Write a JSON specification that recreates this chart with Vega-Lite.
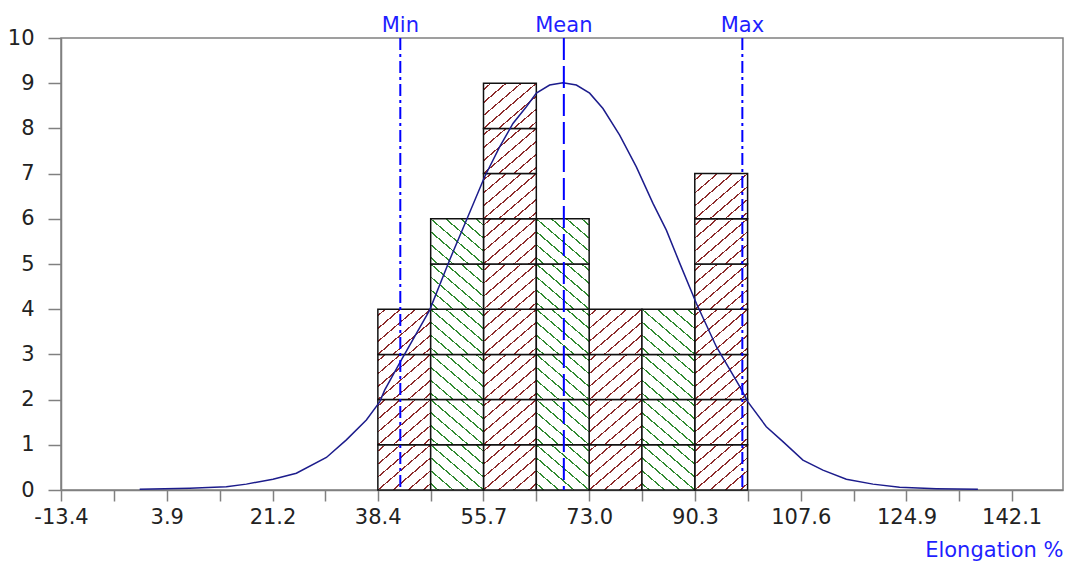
{
  "$schema": "https://vega.github.io/schema/vega-lite/v6.json",
  "width": 1002,
  "height": 452,
  "autosize": {"type": "none"},
  "padding": {"left": 61, "top": 38, "right": 6, "bottom": 74},
  "background": "white",
  "config": {
    "view": {"stroke": "#808080", "strokeWidth": 1.5},
    "font": "DejaVu Sans"
  },
  "datasets": {
    "bars": [
      {"lo": 38.43, "hi": 47.07, "count": 4, "hatch": "red", "levels": [1, 2, 3, 4]},
      {"lo": 47.07, "hi": 55.71, "count": 6, "hatch": "green", "levels": [1, 2, 3, 4, 5, 6]},
      {"lo": 55.71, "hi": 64.35, "count": 9, "hatch": "red", "levels": [1, 2, 3, 4, 5, 6, 7, 8, 9]},
      {"lo": 64.35, "hi": 72.99, "count": 6, "hatch": "green", "levels": [1, 2, 3, 4, 5, 6]},
      {"lo": 72.99, "hi": 81.63, "count": 4, "hatch": "red", "levels": [1, 2, 3, 4]},
      {"lo": 81.63, "hi": 90.27, "count": 4, "hatch": "green", "levels": [1, 2, 3, 4]},
      {"lo": 90.27, "hi": 98.91, "count": 7, "hatch": "red", "levels": [1, 2, 3, 4, 5, 6, 7]}
    ],
    "curve": [
      {"x": -0.53, "y": 0.015},
      {"x": 7.65, "y": 0.04},
      {"x": 13.65, "y": 0.07},
      {"x": 16.92, "y": 0.13},
      {"x": 21.27, "y": 0.24},
      {"x": 25.1, "y": 0.37},
      {"x": 30.01, "y": 0.72},
      {"x": 33.28, "y": 1.11},
      {"x": 36.55, "y": 1.55},
      {"x": 38.73, "y": 1.95},
      {"x": 39.54, "y": 2.21},
      {"x": 42.28, "y": 2.88},
      {"x": 46.9, "y": 3.98},
      {"x": 50.17, "y": 5.09},
      {"x": 53.17, "y": 6.05},
      {"x": 55.9, "y": 6.93},
      {"x": 58.35, "y": 7.59},
      {"x": 60.53, "y": 8.11},
      {"x": 62.72, "y": 8.48},
      {"x": 64.36, "y": 8.78},
      {"x": 66.53, "y": 8.96},
      {"x": 68.71, "y": 9.01},
      {"x": 70.9, "y": 8.96},
      {"x": 73.07, "y": 8.78},
      {"x": 75.25, "y": 8.44},
      {"x": 77.98, "y": 7.85},
      {"x": 80.71, "y": 7.15},
      {"x": 83.43, "y": 6.34},
      {"x": 85.62, "y": 5.75},
      {"x": 87.8, "y": 5.02},
      {"x": 90.52, "y": 4.13},
      {"x": 93.8, "y": 3.17},
      {"x": 97.61, "y": 2.29},
      {"x": 98.96, "y": 1.95},
      {"x": 101.97, "y": 1.4},
      {"x": 104.69, "y": 1.07},
      {"x": 107.96, "y": 0.66},
      {"x": 111.23, "y": 0.44},
      {"x": 115.06, "y": 0.24},
      {"x": 119.41, "y": 0.13},
      {"x": 123.77, "y": 0.06},
      {"x": 129.78, "y": 0.03},
      {"x": 136.58, "y": 0.015}
    ],
    "stats": [
      {"stat": "Min", "value": 42.1, "kind": "dashdot"},
      {"stat": "Mean", "value": 68.85, "kind": "dash"},
      {"stat": "Max", "value": 98.05, "kind": "dashdot"}
    ]
  },
  "layer": [
    {
      "data": {"name": "bars"},
      "transform": [
        {"filter": "datum.hatch === 'red'"},
        {"flatten": ["levels"], "as": ["level"]},
        {"calculate": "datum.level - 1", "as": "level0"}
      ],
      "mark": {
        "type": "rect",
        "stroke": "#111111",
        "strokeWidth": 1.5,
        "fill": {
          "gradient": "linear", "x1": 0, "y1": 0, "x2": 1, "y2": 1,
          "stops": [
            {"offset": 0, "color": "#ffffff"},
            {"offset": 0.062, "color": "#ffffff"}, {"offset": 0.062, "color": "#8c2a2a"}, {"offset": 0.08, "color": "#8c2a2a"}, {"offset": 0.08, "color": "#ffffff"},
            {"offset": 0.205, "color": "#ffffff"}, {"offset": 0.205, "color": "#8c2a2a"}, {"offset": 0.223, "color": "#8c2a2a"}, {"offset": 0.223, "color": "#ffffff"},
            {"offset": 0.348, "color": "#ffffff"}, {"offset": 0.348, "color": "#8c2a2a"}, {"offset": 0.366, "color": "#8c2a2a"}, {"offset": 0.366, "color": "#ffffff"},
            {"offset": 0.491, "color": "#ffffff"}, {"offset": 0.491, "color": "#8c2a2a"}, {"offset": 0.509, "color": "#8c2a2a"}, {"offset": 0.509, "color": "#ffffff"},
            {"offset": 0.634, "color": "#ffffff"}, {"offset": 0.634, "color": "#8c2a2a"}, {"offset": 0.652, "color": "#8c2a2a"}, {"offset": 0.652, "color": "#ffffff"},
            {"offset": 0.777, "color": "#ffffff"}, {"offset": 0.777, "color": "#8c2a2a"}, {"offset": 0.795, "color": "#8c2a2a"}, {"offset": 0.795, "color": "#ffffff"},
            {"offset": 0.92, "color": "#ffffff"}, {"offset": 0.92, "color": "#8c2a2a"}, {"offset": 0.938, "color": "#8c2a2a"}, {"offset": 0.938, "color": "#ffffff"},
            {"offset": 1, "color": "#ffffff"}
          ]
        }
      },
      "encoding": {
        "x": {
          "field": "lo", "type": "quantitative",
          "scale": {"domain": [-13.4, 150.5], "nice": false, "zero": false},
          "axis": {
            "values": [-13.4, -4.75, 3.9, 12.55, 21.2, 29.8, 38.4, 47.07, 55.7, 64.35, 73.0, 81.63, 90.3, 98.91, 107.6, 116.25, 124.9, 133.5, 142.1],
            "labelExpr": "indexof([-13.4, 3.9, 21.2, 38.4, 55.7, 73, 90.3, 107.6, 124.9, 142.1], datum.value) >= 0 ? replace(format(datum.value, '.1f'), '\u2212', '-') : ''",
            "labelFlush": false,
            "labelOverlap": false,
            "grid": false,
            "tickSize": 11,
            "tickWidth": 1.5,
            "tickColor": "#808080",
            "domainColor": "#808080",
            "domainWidth": 1.5,
            "labelPadding": 5,
            "labelFontSize": 21,
            "labelColor": "#222222",
            "labelFont": "DejaVu Sans",
            "title": "Elongation %",
            "titleAnchor": "end",
            "titleAlign": "right",
            "titleY": 66,
            "titleBaseline": "alphabetic",
            "titleColor": "#1f1fff",
            "titleFont": "DejaVu Sans",
            "titleFontSize": 21,
            "titleFontWeight": "normal"
          }
        },
        "x2": {"field": "hi"},
        "y": {
          "field": "level0", "type": "quantitative",
          "scale": {"domain": [0, 10], "nice": false},
          "axis": {
            "values": [0, 1, 2, 3, 4, 5, 6, 7, 8, 9, 10],
            "grid": false,
            "title": null,
            "tickSize": 13,
            "tickWidth": 1.5,
            "tickColor": "#808080",
            "domainColor": "#808080",
            "domainWidth": 1.5,
            "labelPadding": 14,
            "labelFontSize": 21,
            "labelColor": "#222222",
            "labelFont": "DejaVu Sans",
            "labelFlush": false,
            "labelOverlap": false
          }
        },
        "y2": {"field": "level"}
      }
    },
    {
      "data": {"name": "bars"},
      "transform": [
        {"filter": "datum.hatch === 'green'"},
        {"flatten": ["levels"], "as": ["level"]},
        {"calculate": "datum.level - 1", "as": "level0"}
      ],
      "mark": {
        "type": "rect",
        "stroke": "#111111",
        "strokeWidth": 1.5,
        "fill": {
          "gradient": "linear", "x1": 1, "y1": 0, "x2": 0, "y2": 1,
          "stops": [
            {"offset": 0, "color": "#ffffff"},
            {"offset": 0.062, "color": "#ffffff"}, {"offset": 0.062, "color": "#2f8a2f"}, {"offset": 0.08, "color": "#2f8a2f"}, {"offset": 0.08, "color": "#ffffff"},
            {"offset": 0.205, "color": "#ffffff"}, {"offset": 0.205, "color": "#2f8a2f"}, {"offset": 0.223, "color": "#2f8a2f"}, {"offset": 0.223, "color": "#ffffff"},
            {"offset": 0.348, "color": "#ffffff"}, {"offset": 0.348, "color": "#2f8a2f"}, {"offset": 0.366, "color": "#2f8a2f"}, {"offset": 0.366, "color": "#ffffff"},
            {"offset": 0.491, "color": "#ffffff"}, {"offset": 0.491, "color": "#2f8a2f"}, {"offset": 0.509, "color": "#2f8a2f"}, {"offset": 0.509, "color": "#ffffff"},
            {"offset": 0.634, "color": "#ffffff"}, {"offset": 0.634, "color": "#2f8a2f"}, {"offset": 0.652, "color": "#2f8a2f"}, {"offset": 0.652, "color": "#ffffff"},
            {"offset": 0.777, "color": "#ffffff"}, {"offset": 0.777, "color": "#2f8a2f"}, {"offset": 0.795, "color": "#2f8a2f"}, {"offset": 0.795, "color": "#ffffff"},
            {"offset": 0.92, "color": "#ffffff"}, {"offset": 0.92, "color": "#2f8a2f"}, {"offset": 0.938, "color": "#2f8a2f"}, {"offset": 0.938, "color": "#ffffff"},
            {"offset": 1, "color": "#ffffff"}
          ]
        }
      },
      "encoding": {
        "x": {"field": "lo", "type": "quantitative"},
        "x2": {"field": "hi"},
        "y": {"field": "level0", "type": "quantitative"},
        "y2": {"field": "level"}
      }
    },
    {
      "data": {"name": "curve"},
      "mark": {"type": "line", "color": "#1c1c8c", "strokeWidth": 1.5},
      "encoding": {
        "x": {"field": "x", "type": "quantitative"},
        "y": {"field": "y", "type": "quantitative"}
      }
    },
    {
      "data": {"name": "stats"},
      "mark": {"type": "rule", "color": "#0000ff", "strokeWidth": 2},
      "encoding": {
        "x": {"field": "value", "type": "quantitative"},
        "strokeDash": {
          "field": "kind", "type": "nominal",
          "scale": {"domain": ["dashdot", "dash"], "range": [[12, 4, 3, 4], [22, 6]]},
          "legend": null
        }
      }
    },
    {
      "data": {"name": "stats"},
      "mark": {"type": "text", "color": "#1f1fff", "fontSize": 21, "font": "DejaVu Sans", "baseline": "alphabetic", "align": "center", "dy": -6},
      "encoding": {
        "x": {"field": "value", "type": "quantitative"},
        "y": {"datum": 10, "type": "quantitative"},
        "text": {"field": "stat", "type": "nominal"}
      }
    }
  ]
}
